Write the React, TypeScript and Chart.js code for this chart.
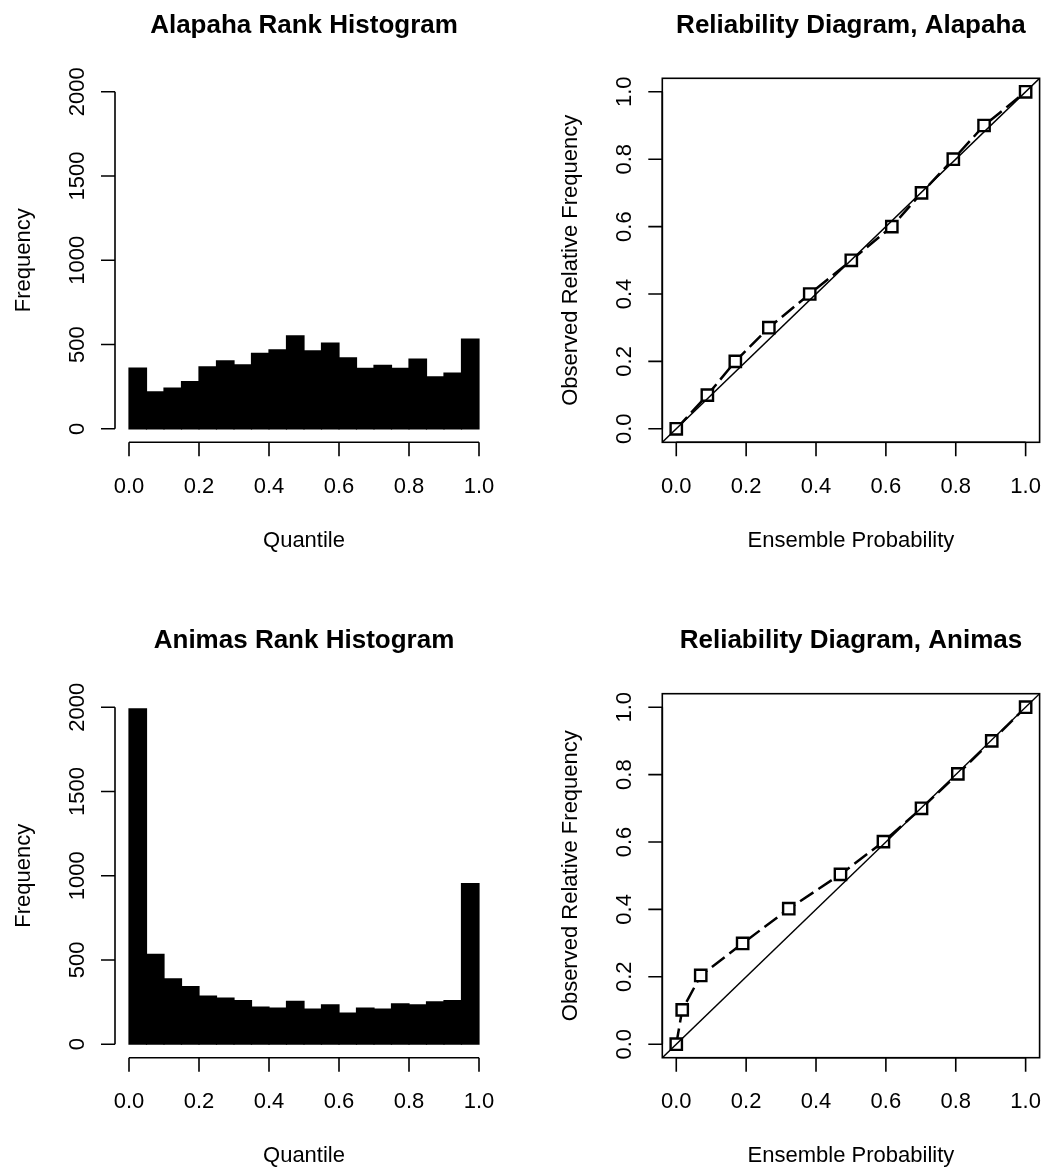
import React, { useEffect, useRef } from "react";
import { Chart, registerables } from "chart.js";

Chart.register(...registerables);

// ---------------- DATA ----------------
const quantileBinCenters = [
  0.025, 0.075, 0.125, 0.175, 0.225, 0.275, 0.325, 0.375, 0.425, 0.475,
  0.525, 0.575, 0.625, 0.675, 0.725, 0.775, 0.825, 0.875, 0.925, 0.975,
];
const alapahaCounts = [
  360, 220, 242, 280, 367, 403, 379, 448, 468, 552,
  462, 508, 421, 359, 377, 359, 413, 308, 331, 532,
];
const animasCounts = [
  1990, 534, 388, 342, 285, 273, 259, 221, 214, 255,
  208, 233, 184, 214, 208, 239, 233, 251, 259, 953,
];

const alapahaProb = [0, 0.089, 0.169, 0.265, 0.382, 0.501, 0.617, 0.702, 0.793, 0.881, 1.0];
const alapahaObs = [0, 0.1, 0.2, 0.3, 0.4, 0.5, 0.6, 0.7, 0.8, 0.9, 1.0];
const animasProb = [0, 0.017, 0.07, 0.19, 0.322, 0.47, 0.593, 0.702, 0.806, 0.903, 1.0];
const animasObs = [0, 0.102, 0.204, 0.299, 0.402, 0.504, 0.601, 0.7, 0.802, 0.9, 1.0];

const probTicks = [0, 0.2, 0.4, 0.6, 0.8, 1.0];
const probTickLabels = ["0.0", "0.2", "0.4", "0.6", "0.8", "1.0"];
const freqTicks = [0, 500, 1000, 1500, 2000];
const freqTickLabels = ["0", "500", "1000", "1500", "2000"];

// axis ranges (R style 4% extension)
const UNIT_MIN = -0.04;
const UNIT_MAX = 1.04;
const FREQ_MIN = -80;
const FREQ_MAX = 2080;

// ---------------- STYLE ----------------
const FONT = '"Liberation Sans", Arial, Helvetica, sans-serif';
const TICK_FONT_PX = 22;
const TITLE_FONT_PX = 26;
const TICK_LEN = 14;
const AXIS_LW = 1.6;

// R-like axes plugin: draws axes, ticks, tick labels, titles through the chart scales
const rAxesPlugin = {
  id: "rAxes",
  afterDraw(chart: any, _args: any, opts: any) {
    const ctx: CanvasRenderingContext2D = chart.ctx;
    const { left, top, right, bottom } = chart.chartArea;
    const xs = chart.scales.x;
    const ys = chart.scales.y;
    ctx.save();
    ctx.strokeStyle = "#000";
    ctx.fillStyle = "#000";
    ctx.lineWidth = AXIS_LW;
    ctx.lineCap = "butt";

    if (opts.box) {
      ctx.strokeRect(left, top, right - left, bottom - top);
    }

    // x axis
    const xp = opts.xTicks.map((v: number) => xs.getPixelForValue(v));
    ctx.beginPath();
    ctx.moveTo(xp[0], bottom);
    ctx.lineTo(xp[xp.length - 1], bottom);
    xp.forEach((p: number) => {
      ctx.moveTo(p, bottom);
      ctx.lineTo(p, bottom + TICK_LEN);
    });
    ctx.stroke();

    // y axis
    const yp = opts.yTicks.map((v: number) => ys.getPixelForValue(v));
    ctx.beginPath();
    ctx.moveTo(left, yp[0]);
    ctx.lineTo(left, yp[yp.length - 1]);
    yp.forEach((p: number) => {
      ctx.moveTo(left, p);
      ctx.lineTo(left - TICK_LEN, p);
    });
    ctx.stroke();

    // tick labels
    ctx.font = `${TICK_FONT_PX}px ${FONT}`;
    ctx.textAlign = "center";
    ctx.textBaseline = "alphabetic";
    xp.forEach((p: number, i: number) => {
      ctx.fillText(opts.xTickLabels[i], p, bottom + 50.7);
    });
    yp.forEach((p: number, i: number) => {
      ctx.save();
      ctx.translate(left - 31.5, p);
      ctx.rotate(-Math.PI / 2);
      ctx.fillText(opts.yTickLabels[i], 0, 0);
      ctx.restore();
    });

    // axis titles
    ctx.fillText(opts.xTitle, (left + right) / 2, bottom + 104.7);
    ctx.save();
    ctx.translate(left - 85.5, (top + bottom) / 2);
    ctx.rotate(-Math.PI / 2);
    ctx.fillText(opts.yTitle, 0, 0);
    ctx.restore();

    // main title
    ctx.font = `bold ${TITLE_FONT_PX}px ${FONT}`;
    ctx.fillText(opts.title, (left + right) / 2, top - 45.3);

    ctx.restore();
  },
};

type Rect = { x: number; y: number; w: number; h: number };
type Plot = { l: number; t: number; r: number; b: number };

function paddingFor(canvas: Rect, plot: Plot) {
  return {
    left: plot.l - canvas.x,
    top: plot.t - canvas.y,
    right: canvas.x + canvas.w - plot.r,
    bottom: canvas.y + canvas.h - plot.b,
  };
}

function histConfig(title: string, counts: number[], padding: any) {
  return {
    type: "bar",
    data: {
      datasets: [
        {
          data: quantileBinCenters.map((x, i) => ({ x, y: counts[i] })),
          backgroundColor: "#000",
          borderColor: "#000",
          borderWidth: 0,
          inflateAmount: 0.6,
          barThickness: "flex",
          barPercentage: 1,
          categoryPercentage: 1,
        },
      ],
    },
    options: {
      responsive: false,
      animation: false,
      events: [],
      layout: { padding },
      plugins: {
        legend: { display: false },
        tooltip: { enabled: false },
        title: { display: false },
        rAxes: {
          box: false,
          title,
          xTitle: "Quantile",
          yTitle: "Frequency",
          xTicks: probTicks,
          xTickLabels: probTickLabels,
          yTicks: freqTicks,
          yTickLabels: freqTickLabels,
        },
      },
      scales: {
        x: { type: "linear", min: UNIT_MIN, max: UNIT_MAX, display: false, offset: false, bounds: "data" },
        y: { type: "linear", min: FREQ_MIN, max: FREQ_MAX, display: false, bounds: "data" },
      },
    },
    plugins: [rAxesPlugin],
  };
}

function relConfig(title: string, prob: number[], obs: number[], padding: any) {
  return {
    type: "scatter",
    data: {
      datasets: [
        {
          data: [
            { x: UNIT_MIN, y: UNIT_MIN },
            { x: UNIT_MAX, y: UNIT_MAX },
          ],
          showLine: true,
          borderColor: "#000",
          borderWidth: 1.5,
          pointRadius: 0,
          order: 1,
        },
        {
          data: prob.map((x, i) => ({ x, y: obs[i] })),
          showLine: true,
          borderColor: "#000",
          borderWidth: 2.5,
          borderDash: [16, 6],
          pointStyle: "rect",
          pointRadius: 8,
          pointBorderWidth: 2.4,
          pointBorderColor: "#000",
          pointBackgroundColor: "#fff",
          order: 2,
        },
      ],
    },
    options: {
      responsive: false,
      animation: false,
      events: [],
      layout: { padding },
      plugins: {
        legend: { display: false },
        tooltip: { enabled: false },
        title: { display: false },
        rAxes: {
          box: true,
          title,
          xTitle: "Ensemble Probability",
          yTitle: "Observed Relative Frequency",
          xTicks: probTicks,
          xTickLabels: probTickLabels,
          yTicks: probTicks,
          yTickLabels: probTickLabels,
        },
      },
      scales: {
        x: { type: "linear", min: UNIT_MIN, max: UNIT_MAX, display: false, bounds: "data" },
        y: { type: "linear", min: UNIT_MIN, max: UNIT_MAX, display: false, bounds: "data" },
      },
    },
    plugins: [rAxesPlugin],
  };
}

// ---------------- LAYOUT ----------------
const TOP_CANVAS_Y = 0;
const TOP_CANVAS_H = 600;
const BOT_CANVAS_Y = 600;
const BOT_CANVAS_H = 571;
const LEFT_CANVAS = { x: 0, w: 545 };
const RIGHT_CANVAS = { x: 545, w: 505 };
const LEFT_PLOT = { l: 115, r: 493 };
const RIGHT_PLOT = { l: 662.3, r: 1040.7 };
const TOP_PLOT = { t: 78.3, b: 442.3 };
const BOT_PLOT = { t: 693.7, b: 1057.7 };

type PanelDef = { key: string; canvas: Rect; make: (pad: any) => any; plot: Plot };

const panels: PanelDef[] = [
  {
    key: "alapahaHist",
    canvas: { x: LEFT_CANVAS.x, y: TOP_CANVAS_Y, w: LEFT_CANVAS.w, h: TOP_CANVAS_H },
    plot: { ...LEFT_PLOT, ...TOP_PLOT },
    make: (pad) => histConfig("Alapaha Rank Histogram", alapahaCounts, pad),
  },
  {
    key: "alapahaRel",
    canvas: { x: RIGHT_CANVAS.x, y: TOP_CANVAS_Y, w: RIGHT_CANVAS.w, h: TOP_CANVAS_H },
    plot: { ...RIGHT_PLOT, ...TOP_PLOT },
    make: (pad) => relConfig("Reliability Diagram, Alapaha", alapahaProb, alapahaObs, pad),
  },
  {
    key: "animasHist",
    canvas: { x: LEFT_CANVAS.x, y: BOT_CANVAS_Y, w: LEFT_CANVAS.w, h: BOT_CANVAS_H },
    plot: { ...LEFT_PLOT, ...BOT_PLOT },
    make: (pad) => histConfig("Animas Rank Histogram", animasCounts, pad),
  },
  {
    key: "animasRel",
    canvas: { x: RIGHT_CANVAS.x, y: BOT_CANVAS_Y, w: RIGHT_CANVAS.w, h: BOT_CANVAS_H },
    plot: { ...RIGHT_PLOT, ...BOT_PLOT },
    make: (pad) => relConfig("Reliability Diagram, Animas", animasProb, animasObs, pad),
  },
];

function Panel({ def }: { def: PanelDef }) {
  const ref = useRef<HTMLCanvasElement | null>(null);
  useEffect(() => {
    if (!ref.current) return;
    const chart = new Chart(ref.current, def.make(paddingFor(def.canvas, def.plot)) as any);
    return () => chart.destroy();
  }, [def]);
  return (
    <canvas
      ref={ref}
      width={def.canvas.w}
      height={def.canvas.h}
      style={{
        position: "absolute",
        left: def.canvas.x,
        top: def.canvas.y,
        width: def.canvas.w,
        height: def.canvas.h,
      }}
    />
  );
}

export default function App() {
  return (
    <div
      style={{
        position: "absolute",
        left: 0,
        top: 0,
        width: 1050,
        height: 1171,
        background: "#fff",
      }}
    >
      {panels.map((p) => (
        <Panel key={p.key} def={p} />
      ))}
    </div>
  );
}
